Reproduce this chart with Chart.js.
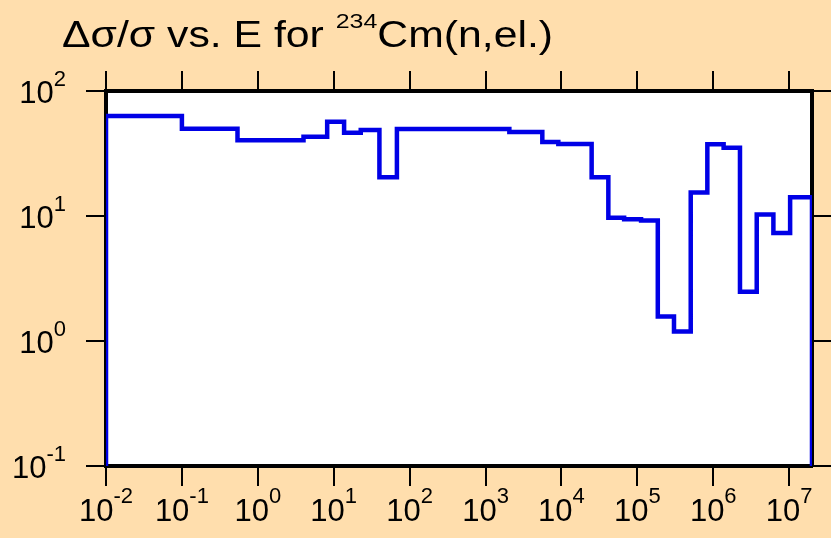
<!DOCTYPE html>
<html>
<head>
<meta charset="utf-8">
<script src="https://cdn.jsdelivr.net/npm/chart.js@4.4.1/dist/chart.umd.min.js"></script>
<style>
  body { margin: 0; background: #FFDEAD; }
  #wrap { width: 831px; height: 538px; }
</style>
</head>
<body>
<div id="wrap"><canvas id="chart" width="831" height="538"></canvas></div>
<script>
// bin edges in energy (eV) and relative uncertainty (%) per bin
const energyEdges = [0.01, 0.1, 0.54, 4.0, 8.2, 13.7, 22.7, 40, 68, 2060, 5600, 9100, 25000,
    41500, 67000, 112000, 186000, 304000, 505000, 836000, 1.37e6, 2.25e6, 3.74e6, 6.2e6, 1.03e7, 2e7];
const binValues = [63, 50, 40.3, 43, 56.8, 46.4, 48.8, 20.4, 49.7, 47, 39, 37.7, 20.4,
    9.7, 9.4, 9.2, 1.57, 1.19, 15.4, 37.5, 35.2, 2.48, 10.3, 7.3, 14.1];
const xDecades = [-2, -1, 0, 1, 2, 3, 4, 5, 6, 7];
const yDecades = [-1, 0, 1, 2];

const xMin = 0.01, xMax = 2e7;
const yMin = 0.1, yMax = 100;
const FONT = '"Liberation Sans", Arial, sans-serif';

// step histogram points: start on the floor, end on the floor
const points = [{ x: energyEdges[0], y: yMin }];
binValues.forEach((v, i) => points.push({ x: energyEdges[i], y: v }));
points.push({ x: energyEdges[energyEdges.length - 1], y: yMin });

function decadeTicks(list) {
    return function (scale) {
        scale.ticks = list.map(e => ({ value: Math.pow(10, e) }));
    };
}

function axis(pos, min, max, list, size) {
    const horizontal = pos === 'top' || pos === 'bottom';
    return {
        type: 'logarithmic',
        position: pos,
        min: min,
        max: max,
        afterBuildTicks: decadeTicks(list),
        afterFit: function (s) {
            if (horizontal) s.height = size; else s.width = size;
        },
        ticks: { display: false, autoSkip: false },
        grid: { drawOnChartArea: false, drawTicks: true, tickLength: 20, color: '#000', lineWidth: 2 },
        border: { display: true, color: '#000', width: 4 }
    };
}

// superscript "10^n" labels and title
const labelPlugin = {
    id: 'labels',
    beforeDraw(chart) {
        const a = chart.chartArea, ctx = chart.ctx;
        ctx.save();
        ctx.fillStyle = '#fff';
        ctx.fillRect(a.left, a.top, a.right - a.left, a.bottom - a.top);
        ctx.restore();
    },
    afterDraw(chart) {
        const ctx = chart.ctx;
        ctx.save();
        ctx.fillStyle = '#000';
        ctx.textBaseline = 'alphabetic';
        ctx.textAlign = 'left';

        const big = '31px ' + FONT, small = '22px ' + FONT;
        function power(e) {
            ctx.font = big;
            const w1 = ctx.measureText('10').width;
            ctx.font = small;
            const w2 = ctx.measureText(String(e)).width;
            return { w1: w1, w2: w2, exp: String(e) };
        }

        const xs = chart.scales.x;
        xDecades.forEach(e => {
            const p = xs.getPixelForValue(Math.pow(10, e));
            const m = power(e);
            const x0 = p - (m.w1 + m.w2) / 2;
            ctx.font = big; ctx.fillText('10', x0, 521);
            ctx.font = small; ctx.fillText(m.exp, x0 + m.w1, 503);
        });

        const ys = chart.scales.y;
        yDecades.forEach(e => {
            const p = ys.getPixelForValue(Math.pow(10, e));
            const m = power(e);
            const x0 = 66 - m.w1 - m.w2;
            ctx.font = big; ctx.fillText('10', x0, p + 12);
            ctx.font = small; ctx.fillText(m.exp, x0 + m.w1, p - 5);
        });

        // title with superscript mass number, stretched to its width in the picture
        const t1 = '\u0394\u03c3/\u03c3 vs. E for ', t2 = '234', t3 = 'Cm(n,el.)';
        const tBig = '36px ' + FONT, tSmall = '21px ' + FONT;
        ctx.font = tBig;
        const w1 = ctx.measureText(t1).width, w3 = ctx.measureText(t3).width;
        ctx.font = tSmall;
        const w2 = ctx.measureText(t2).width;
        const stretch = (553 - 62) / (w1 + w2 + w3);
        ctx.translate(62, 0);
        ctx.scale(stretch, 1);
        ctx.font = tBig; ctx.fillText(t1, 0, 47);
        ctx.font = tSmall; ctx.fillText(t2, w1, 28);
        ctx.font = tBig; ctx.fillText(t3, w1 + w2, 47);
        ctx.restore();
    }
};

new Chart(document.getElementById('chart'), {
    type: 'line',
    data: {
        datasets: [{
            data: points,
            stepped: true,
            borderColor: '#0000E6',
            borderWidth: 4.5,
            pointRadius: 0,
            fill: false,
            tension: 0
        }]
    },
    options: {
        responsive: false,
        animation: false,
        layout: { padding: 0 },
        plugins: { legend: { display: false }, tooltip: { enabled: false } },
        scales: {
            x: axis('bottom', xMin, xMax, xDecades, 72),
            x2: axis('top', xMin, xMax, xDecades, 91),
            y: axis('left', yMin, yMax, yDecades, 106),
            y2: axis('right', yMin, yMax, yDecades, 19)
        }
    },
    plugins: [labelPlugin]
});
</script>
</body>
</html>
